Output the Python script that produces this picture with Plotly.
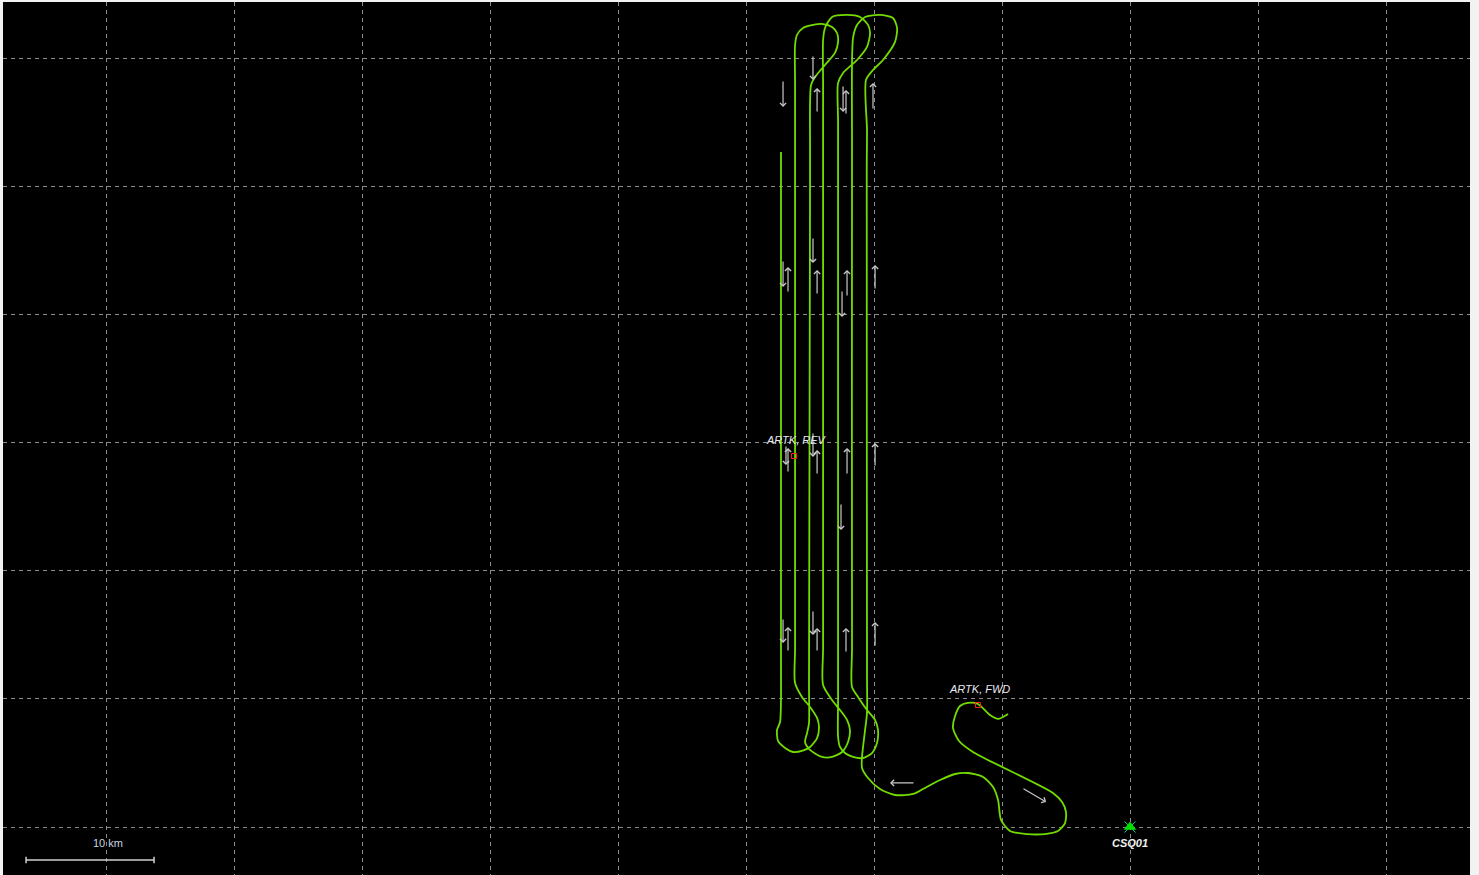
import plotly.graph_objects as go

# ---- data (km, relative to station CSQ01) ----
track_x_km = [
    -9.53, -10.31, -10.94, -11.88, -12.66, -13.28, -13.67, -13.83, -13.36, -12.27,
    -6.02, -5.31, -5.0, -5.08, -5.63, -6.64, -8.05, -9.38, -10.08, -10.31,
    -10.70, -11.48, -12.66, -13.67, -14.84, -16.17, -16.95, -18.36, -19.53, -20.47,
    -20.94, -20.94, -20.86, -20.70, -20.55,
    -20.55, -20.57, -20.55, -20.63, -20.08, -19.30, -18.36, -18.20, -18.52, -19.53,
    -20.70, -21.33, -21.64, -21.72, -21.72, -21.72, -21.25, -20.55, -19.92, -19.69,
    -19.77, -20.16, -20.86, -21.64, -22.27, -22.66, -22.81,
    -22.81, -22.81, -22.81, -22.42, -21.33, -20.55, -20.31, -20.47, -21.09, -22.11,
    -23.28, -23.83, -23.98, -23.98, -23.98, -23.98, -23.28, -22.66, -22.11, -21.88,
    -22.03, -22.5, -23.28, -24.06, -25.0, -25.39, -25.23, -25.08,
    -25.08, -25.0, -25.0, -24.92, -24.61, -23.83, -23.05, -22.81, -22.89, -23.28,
    -23.98, -24.77, -25.55, -26.02, -26.17, -26.17, -26.17, -26.17, -25.63, -25.0,
    -24.45, -24.30, -24.45, -25.0, -25.63, -26.33, -26.95, -27.5, -27.58, -27.34,
    -27.27, -27.27, -27.27]
track_y_km = [
    8.83, 8.44, 8.75, 9.61, 9.69, 9.45, 8.67, 7.73, 6.72, 5.86,
    2.66, 1.95, 1.17, 0.31, -0.31, -0.55, -0.55, -0.31, 0.55, 2.11,
    3.13, 3.91, 4.22, 4.14, 3.67, 2.97, 2.58, 2.5, 2.97, 3.83,
    4.61, 5.47, 6.25, 7.58, 8.91,
    12.0, 51.5, 54.45, 58.36, 59.14, 59.92, 61.33, 62.42, 63.20, 63.44,
    63.28, 62.66, 61.64, 52.89, 14.0, 10.94, 10.16, 9.14, 8.36, 7.58,
    6.56, 5.78, 5.39, 5.47, 5.78, 6.25, 7.03,
    10.0, 55.0, 58.13, 58.91, 59.92, 60.94, 62.03, 62.66, 63.28, 63.44,
    63.28, 62.42, 61.48, 58.0, 14.0, 11.09, 9.92, 9.14, 8.36, 7.58,
    6.64, 5.86, 5.47, 5.47, 6.02, 6.64, 7.34, 8.13,
    11.0, 50.0, 53.44, 57.97, 58.59, 59.53, 60.47, 61.33, 62.03, 62.5,
    62.73, 62.66, 62.42, 61.88, 61.09, 58.0, 14.0, 11.25, 10.16, 9.38,
    8.52, 7.81, 6.95, 6.25, 5.94, 5.86, 6.17, 6.72, 7.58, 8.20,
    9.92, 13.0, 52.73]

# direction arrows: tail -> head (km)
arrow_tail_x = [-27.11, -24.77, -24.45, -22.42, -22.19, -20.08,
                -27.11, -26.72, -24.77, -24.45, -22.50, -22.11, -19.92,
                -26.88, -26.72, -24.77, -24.45, -22.11, -22.58, -19.92,
                -27.11, -26.72, -24.77, -24.45, -22.19, -19.92,
                -16.80, -8.44]
arrow_tail_y = [58.36, 60.31, 55.78, 57.97, 55.63, 56.02,
                44.30, 41.72, 46.09, 41.56, 41.95, 41.41, 41.95,
                29.84, 27.66, 30.86, 27.50, 27.50, 25.31, 28.13,
                16.33, 13.67, 16.95, 13.67, 13.59, 14.06,
                3.44, 3.05]
arrow_head_x = [-27.11, -24.77, -24.45, -22.42, -22.19, -20.08,
                -27.11, -26.72, -24.77, -24.45, -22.50, -22.11, -19.92,
                -26.88, -26.72, -24.77, -24.45, -22.11, -22.58, -19.92,
                -27.11, -26.72, -24.77, -24.45, -22.19, -19.92,
                -18.75, -6.56]
arrow_head_y = [56.25, 58.36, 57.73, 55.86, 57.58, 58.13,
                42.19, 43.75, 44.06, 43.52, 39.84, 43.52, 43.91,
                28.28, 29.61, 28.91, 29.45, 29.61, 23.20, 30.00,
                14.38, 15.63, 15.00, 15.55, 15.55, 16.02,
                3.44, 1.95]

event_names = ["ARTK, REV", "ARTK, FWD"]
event_x = [-26.25, -11.88]
event_y = [28.98, 9.53]
event_label_x = [-26.09, -11.76]
event_label_y = [30.23, 10.78]

station_name = "CSQ01"
station_x = 0.0
station_y = 0.0

scale_km = 10
scale_x0 = -86.25
scale_y = -2.58

x_range = [-88.05, 26.56]
y_range = [-3.75, 64.45]
grid_step = 10

GREEN = "#72dc00"
ARROW = "#c8c8c8"
FONT = "Liberation Sans"

fig = go.Figure()
fig.add_trace(go.Scatter(x=track_x_km, y=track_y_km, mode="lines",
                         line=dict(color=GREEN, width=1.8, shape="spline", smoothing=0.7),
                         hoverinfo="skip", showlegend=False))
fig.add_trace(go.Scatter(x=event_x, y=event_y, mode="markers",
                         marker=dict(symbol="square-open", size=5, color="#ff2020",
                                     line=dict(width=1, color="#ff2020")),
                         hoverinfo="skip", showlegend=False))
fig.add_trace(go.Scatter(x=[station_x], y=[station_y], mode="markers",
                         marker=dict(symbol="x-thin-open", size=11,
                                     line=dict(width=1, color="#ff3030")),
                         hoverinfo="skip", showlegend=False))
fig.add_trace(go.Scatter(x=[station_x], y=[station_y], mode="markers",
                         marker=dict(symbol="triangle-up", size=11, color="#00e000"),
                         hoverinfo="skip", showlegend=False))

annotations = []
for tx, ty, hx, hy in zip(arrow_tail_x, arrow_tail_y, arrow_head_x, arrow_head_y):
    annotations.append(dict(x=hx, y=hy, ax=tx, ay=ty, xref="x", yref="y",
                            axref="x", ayref="y", text="", showarrow=True,
                            arrowhead=4, arrowsize=1.0, arrowwidth=1.2,
                            arrowcolor=ARROW, standoff=0))
for name, lx, ly in zip(event_names, event_label_x, event_label_y):
    annotations.append(dict(x=lx, y=ly, xref="x", yref="y", text=name,
                            showarrow=False,
                            font=dict(family=FONT, size=11, color="#e8e8f0", style="italic")))
annotations.append(dict(x=station_x, y=station_y - 1.25, xref="x", yref="y",
                        text=station_name, showarrow=False,
                        font=dict(family=FONT, size=11, color="#f0f0f0",
                                  style="italic", weight="bold")))
annotations.append(dict(x=scale_x0 + scale_km * 0.64, y=scale_y + 1.35, xref="x", yref="y",
                        text=f"{scale_km} km", showarrow=False,
                        font=dict(family=FONT, size=11, color="#c8d4e0")))

shapes = [
    dict(type="line", xref="x", yref="y", x0=scale_x0, x1=scale_x0 + scale_km,
         y0=scale_y, y1=scale_y, line=dict(color="#d0d0d0", width=1.5)),
    dict(type="line", xref="x", yref="y", x0=scale_x0, x1=scale_x0,
         y0=scale_y - 0.25, y1=scale_y + 0.25, line=dict(color="#d0d0d0", width=1.5)),
    dict(type="line", xref="x", yref="y", x0=scale_x0 + scale_km, x1=scale_x0 + scale_km,
         y0=scale_y - 0.25, y1=scale_y + 0.25, line=dict(color="#d0d0d0", width=1.5)),
]

axis_common = dict(showgrid=True, gridcolor="#8a8a8a", gridwidth=1, griddash="4px,4px",
                   dtick=grid_step, tick0=0, showticklabels=False, ticks="",
                   zeroline=False, showline=False, fixedrange=True)

fig.update_layout(
    width=1479, height=875,
    margin=dict(l=3, r=9, t=2, b=0, pad=0),
    paper_bgcolor="#f2f2f2", plot_bgcolor="#000000",
    xaxis=dict(range=x_range, **axis_common),
    yaxis=dict(range=y_range, **axis_common),
    annotations=annotations, shapes=shapes,
    showlegend=False,
)

fig.write_html("out.html", config={"displayModeBar": False},
               post_script="document.body.style.margin='0';document.body.style.overflow='hidden';")
